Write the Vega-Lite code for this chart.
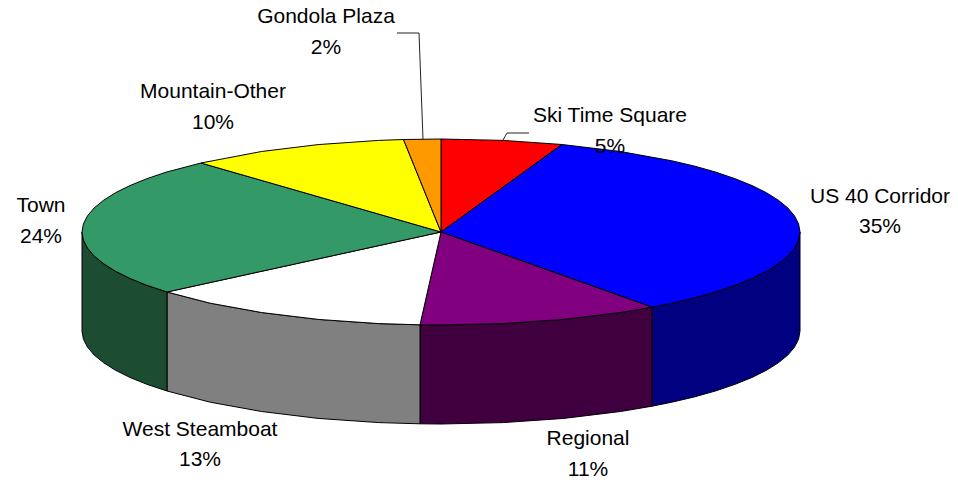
{"$schema":"https://vega.github.io/schema/vega-lite/v6.json","width":958,"height":482,"padding":0,"autosize":{"type":"fit","contains":"padding"},"background":"white","view":{"stroke":null},
"datasets":{
"shapes":[
{"part":"US 40 Corridor side","i":0,"x":359,"y":0},{"part":"US 40 Corridor side","i":1,"x":357.6,"y":-8.1},{"part":"US 40 Corridor side","i":2,"x":353.5,"y":-16.1},{"part":"US 40 Corridor side","i":3,"x":346.8,"y":-24.1},{"part":"US 40 Corridor side","i":4,"x":337.3,"y":-31.8},{"part":"US 40 Corridor side","i":5,"x":325.4,"y":-39.3},{"part":"US 40 Corridor side","i":6,"x":310.9,"y":-46.5},{"part":"US 40 Corridor side","i":7,"x":294.1,"y":-53.3},{"part":"US 40 Corridor side","i":8,"x":275,"y":-59.8},{"part":"US 40 Corridor side","i":9,"x":253.9,"y":-65.8},{"part":"US 40 Corridor side","i":10,"x":230.8,"y":-71.2},{"part":"US 40 Corridor side","i":11,"x":211,"y":-75.2},{"part":"US 40 Corridor side","i":12,"x":211,"y":-174.2},{"part":"US 40 Corridor side","i":13,"x":230.8,"y":-170.2},{"part":"US 40 Corridor side","i":14,"x":253.9,"y":-164.8},{"part":"US 40 Corridor side","i":15,"x":275,"y":-158.8},{"part":"US 40 Corridor side","i":16,"x":294.1,"y":-152.3},{"part":"US 40 Corridor side","i":17,"x":310.9,"y":-145.5},{"part":"US 40 Corridor side","i":18,"x":325.4,"y":-138.3},{"part":"US 40 Corridor side","i":19,"x":337.3,"y":-130.8},{"part":"US 40 Corridor side","i":20,"x":346.8,"y":-123.1},{"part":"US 40 Corridor side","i":21,"x":353.5,"y":-115.1},{"part":"US 40 Corridor side","i":22,"x":357.6,"y":-107.1},{"part":"US 40 Corridor side","i":23,"x":359,"y":-99},{"part":"US 40 Corridor side","i":24,"x":359,"y":0},
{"part":"Regional side","i":0,"x":211,"y":-75.2},{"part":"Regional side","i":1,"x":179.5,"y":-80.5},{"part":"Regional side","i":2,"x":122.8,"y":-87.4},{"part":"Regional side","i":3,"x":62.3,"y":-91.6},{"part":"Regional side","i":4,"x":0,"y":-93},{"part":"Regional side","i":5,"x":-21,"y":-92.8},{"part":"Regional side","i":6,"x":-21,"y":-191.8},{"part":"Regional side","i":7,"x":0,"y":-192},{"part":"Regional side","i":8,"x":62.3,"y":-190.6},{"part":"Regional side","i":9,"x":122.8,"y":-186.4},{"part":"Regional side","i":10,"x":179.5,"y":-179.5},{"part":"Regional side","i":11,"x":211,"y":-174.2},{"part":"Regional side","i":12,"x":211,"y":-75.2},
{"part":"West Steamboat side","i":0,"x":-21,"y":-92.8},{"part":"West Steamboat side","i":1,"x":-62.3,"y":-91.6},{"part":"West Steamboat side","i":2,"x":-122.8,"y":-87.4},{"part":"West Steamboat side","i":3,"x":-179.5,"y":-80.5},{"part":"West Steamboat side","i":4,"x":-230.8,"y":-71.2},{"part":"West Steamboat side","i":5,"x":-274,"y":-60},{"part":"West Steamboat side","i":6,"x":-274,"y":-159},{"part":"West Steamboat side","i":7,"x":-230.8,"y":-170.2},{"part":"West Steamboat side","i":8,"x":-179.5,"y":-179.5},{"part":"West Steamboat side","i":9,"x":-122.8,"y":-186.4},{"part":"West Steamboat side","i":10,"x":-62.3,"y":-190.6},{"part":"West Steamboat side","i":11,"x":-21,"y":-191.8},{"part":"West Steamboat side","i":12,"x":-21,"y":-92.8},
{"part":"Town side","i":0,"x":-274,"y":-60},{"part":"Town side","i":1,"x":-294.1,"y":-53.3},{"part":"Town side","i":2,"x":-310.9,"y":-46.5},{"part":"Town side","i":3,"x":-325.4,"y":-39.3},{"part":"Town side","i":4,"x":-337.3,"y":-31.8},{"part":"Town side","i":5,"x":-346.8,"y":-24.1},{"part":"Town side","i":6,"x":-353.5,"y":-16.1},{"part":"Town side","i":7,"x":-357.6,"y":-8.1},{"part":"Town side","i":8,"x":-359,"y":0},{"part":"Town side","i":9,"x":-359,"y":-99},{"part":"Town side","i":10,"x":-357.6,"y":-107.1},{"part":"Town side","i":11,"x":-353.5,"y":-115.1},{"part":"Town side","i":12,"x":-346.8,"y":-123.1},{"part":"Town side","i":13,"x":-337.3,"y":-130.8},{"part":"Town side","i":14,"x":-325.4,"y":-138.3},{"part":"Town side","i":15,"x":-310.9,"y":-145.5},{"part":"Town side","i":16,"x":-294.1,"y":-152.3},{"part":"Town side","i":17,"x":-274,"y":-159},{"part":"Town side","i":18,"x":-274,"y":-60},
{"part":"Ski Time Square","i":0,"x":0,"y":0},{"part":"Ski Time Square","i":1,"x":0,"y":93},{"part":"Ski Time Square","i":2,"x":62.3,"y":91.6},{"part":"Ski Time Square","i":3,"x":121,"y":87.5},{"part":"Ski Time Square","i":4,"x":0,"y":0},
{"part":"US 40 Corridor","i":0,"x":0,"y":0},{"part":"US 40 Corridor","i":1,"x":121,"y":87.5},{"part":"US 40 Corridor","i":2,"x":179.5,"y":80.5},{"part":"US 40 Corridor","i":3,"x":230.8,"y":71.2},{"part":"US 40 Corridor","i":4,"x":253.9,"y":65.8},{"part":"US 40 Corridor","i":5,"x":275,"y":59.8},{"part":"US 40 Corridor","i":6,"x":294.1,"y":53.3},{"part":"US 40 Corridor","i":7,"x":310.9,"y":46.5},{"part":"US 40 Corridor","i":8,"x":325.4,"y":39.3},{"part":"US 40 Corridor","i":9,"x":337.3,"y":31.8},{"part":"US 40 Corridor","i":10,"x":346.8,"y":24.1},{"part":"US 40 Corridor","i":11,"x":353.5,"y":16.1},{"part":"US 40 Corridor","i":12,"x":357.6,"y":8.1},{"part":"US 40 Corridor","i":13,"x":359,"y":0},{"part":"US 40 Corridor","i":14,"x":357.6,"y":-8.1},{"part":"US 40 Corridor","i":15,"x":353.5,"y":-16.1},{"part":"US 40 Corridor","i":16,"x":346.8,"y":-24.1},{"part":"US 40 Corridor","i":17,"x":337.3,"y":-31.8},{"part":"US 40 Corridor","i":18,"x":325.4,"y":-39.3},{"part":"US 40 Corridor","i":19,"x":310.9,"y":-46.5},{"part":"US 40 Corridor","i":20,"x":294.1,"y":-53.3},{"part":"US 40 Corridor","i":21,"x":275,"y":-59.8},{"part":"US 40 Corridor","i":22,"x":253.9,"y":-65.8},{"part":"US 40 Corridor","i":23,"x":230.8,"y":-71.2},{"part":"US 40 Corridor","i":24,"x":211,"y":-75.2},{"part":"US 40 Corridor","i":25,"x":0,"y":0},
{"part":"Regional","i":0,"x":0,"y":0},{"part":"Regional","i":1,"x":211,"y":-75.2},{"part":"Regional","i":2,"x":179.5,"y":-80.5},{"part":"Regional","i":3,"x":122.8,"y":-87.4},{"part":"Regional","i":4,"x":62.3,"y":-91.6},{"part":"Regional","i":5,"x":0,"y":-93},{"part":"Regional","i":6,"x":-21,"y":-92.8},{"part":"Regional","i":7,"x":0,"y":0},
{"part":"West Steamboat","i":0,"x":0,"y":0},{"part":"West Steamboat","i":1,"x":-21,"y":-92.8},{"part":"West Steamboat","i":2,"x":-62.3,"y":-91.6},{"part":"West Steamboat","i":3,"x":-122.8,"y":-87.4},{"part":"West Steamboat","i":4,"x":-179.5,"y":-80.5},{"part":"West Steamboat","i":5,"x":-230.8,"y":-71.2},{"part":"West Steamboat","i":6,"x":-274,"y":-60},{"part":"West Steamboat","i":7,"x":0,"y":0},
{"part":"Town","i":0,"x":0,"y":0},{"part":"Town","i":1,"x":-274,"y":-60},{"part":"Town","i":2,"x":-294.1,"y":-53.3},{"part":"Town","i":3,"x":-310.9,"y":-46.5},{"part":"Town","i":4,"x":-325.4,"y":-39.3},{"part":"Town","i":5,"x":-337.3,"y":-31.8},{"part":"Town","i":6,"x":-346.8,"y":-24.1},{"part":"Town","i":7,"x":-353.5,"y":-16.1},{"part":"Town","i":8,"x":-357.6,"y":-8.1},{"part":"Town","i":9,"x":-359,"y":0},{"part":"Town","i":10,"x":-357.6,"y":8.1},{"part":"Town","i":11,"x":-353.5,"y":16.1},{"part":"Town","i":12,"x":-346.8,"y":24.1},{"part":"Town","i":13,"x":-337.3,"y":31.8},{"part":"Town","i":14,"x":-325.4,"y":39.3},{"part":"Town","i":15,"x":-310.9,"y":46.5},{"part":"Town","i":16,"x":-294.1,"y":53.3},{"part":"Town","i":17,"x":-275,"y":59.8},{"part":"Town","i":18,"x":-240,"y":69},{"part":"Town","i":19,"x":0,"y":0},
{"part":"Mountain-Other","i":0,"x":0,"y":0},{"part":"Mountain-Other","i":1,"x":-240,"y":69},{"part":"Mountain-Other","i":2,"x":-179.5,"y":80.5},{"part":"Mountain-Other","i":3,"x":-122.8,"y":87.4},{"part":"Mountain-Other","i":4,"x":-62.3,"y":91.6},{"part":"Mountain-Other","i":5,"x":-37.5,"y":92.5},{"part":"Mountain-Other","i":6,"x":0,"y":0},
{"part":"Gondola Plaza","i":0,"x":0,"y":0},{"part":"Gondola Plaza","i":1,"x":-37.5,"y":92.5},{"part":"Gondola Plaza","i":2,"x":0,"y":93},{"part":"Gondola Plaza","i":3,"x":0,"y":0}
],
"leaders":[
{"leader":"Gondola Plaza","i":0,"x":-44,"y":199},{"leader":"Gondola Plaza","i":1,"x":-22,"y":199},{"leader":"Gondola Plaza","i":2,"x":-18,"y":93},
{"leader":"Ski Time Square","i":0,"x":62,"y":92},{"leader":"Ski Time Square","i":1,"x":66,"y":99},{"leader":"Ski Time Square","i":2,"x":88,"y":99}
],
"labels":[
{"text":"Gondola Plaza","x":-115,"y":216},{"text":"2%","x":-115,"y":185},
{"text":"Mountain-Other","x":-228,"y":141},{"text":"10%","x":-228,"y":110},
{"text":"Ski Time Square","x":169,"y":117},{"text":"5%","x":169,"y":86},
{"text":"US 40 Corridor","x":439,"y":36},{"text":"35%","x":439,"y":6},
{"text":"Town","x":-400,"y":27},{"text":"24%","x":-400,"y":-4},
{"text":"West Steamboat","x":-241,"y":-197},{"text":"13%","x":-241,"y":-227},
{"text":"Regional","x":147,"y":-206},{"text":"11%","x":147,"y":-237}
]},
"layer":[
{"data":{"name":"shapes"},"mark":{"type":"line","stroke":"black","strokeWidth":1,"strokeJoin":"round"},
"encoding":{
"x":{"field":"x","type":"quantitative","scale":{"domain":[-441,517],"nice":false,"zero":false},"axis":null},
"y":{"field":"y","type":"quantitative","scale":{"domain":[-250,232],"nice":false,"zero":false},"axis":null},
"order":{"field":"i","type":"quantitative"},
"fill":{"field":"part","type":"nominal","legend":null,"scale":{"domain":["US 40 Corridor side","Regional side","West Steamboat side","Town side","Ski Time Square","US 40 Corridor","Regional","West Steamboat","Town","Mountain-Other","Gondola Plaza"],"range":["#000080","#400040","#808080","#1c4d33","#ff0000","#0000ff","#800080","#ffffff","#339966","#ffff00","#ff9900"]}}}},
{"data":{"name":"leaders"},"mark":{"type":"line","stroke":"#222222","strokeWidth":1},
"encoding":{"x":{"field":"x","type":"quantitative"},"y":{"field":"y","type":"quantitative"},"order":{"field":"i","type":"quantitative"},"detail":{"field":"leader"}}},
{"data":{"name":"labels"},"mark":{"type":"text","font":"Liberation Sans","fontSize":21,"color":"black","align":"center","baseline":"middle","dy":1},
"encoding":{"x":{"field":"x","type":"quantitative"},"y":{"field":"y","type":"quantitative"},"text":{"field":"text"}}}
]}
